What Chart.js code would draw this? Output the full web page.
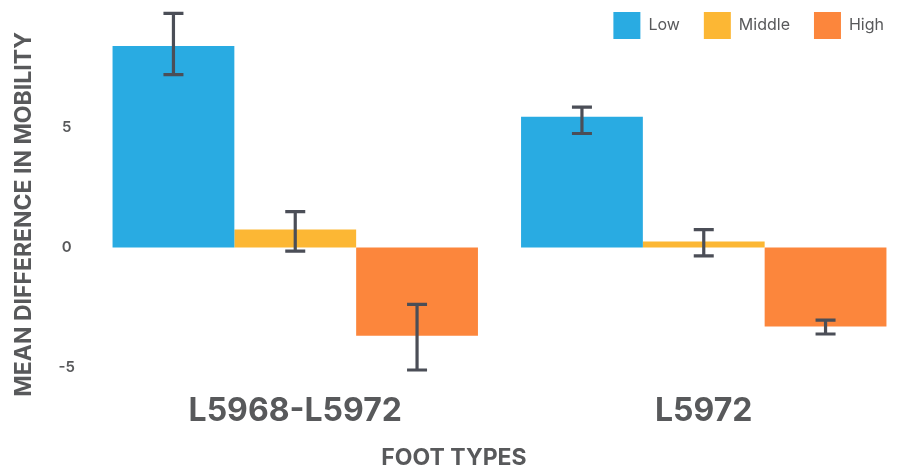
<!DOCTYPE html>
<html>
<head>
<meta charset="utf-8">
<title>Mean difference in mobility by foot type</title>
<script src="https://cdn.jsdelivr.net/npm/chart.js@4/dist/chart.umd.min.js"></script>
<style>
  html, body { margin: 0; padding: 0; background: #fff; overflow: hidden; }
  #wrap { position: relative; width: 908px; height: 470px; }
</style>
</head>
<body>
<div id="wrap"><canvas id="mobilityChart"></canvas></div>
<script>
const footTypes = ['L5968-L5972', 'L5972'];
const archGroups = ['Low', 'Middle', 'High'];

// mean difference per foot type
const lowMean = [8.4, 5.45];
const middleMean = [0.75, 0.25];
const highMean = [-3.67, -3.29];

// error bar ends
const lowUpper = [9.75, 5.85];
const lowLower = [7.2, 4.75];
const middleUpper = [1.5, 0.75];
const middleLower = [-0.15, -0.35];
const highUpper = [-2.37, -3.02];
const highLower = [-5.1, -3.6];

const yTicks = [-5, 0, 5];

const colors = ['#29abe2', '#fcb734', '#fc863c'];
const textGray = '#58595b';

Chart.defaults.font.family = 'Inter, "Open Sans", sans-serif';
Chart.defaults.color = textGray;

// whiskers drawn on top of each bar from its upper/lower values
const errorBars = {
  id: 'errorBars',
  afterDatasetsDraw(chart) {
    const ctx = chart.ctx;
    const yScale = chart.scales.y;
    ctx.save();
    ctx.strokeStyle = '#4b4e57';
    ctx.lineWidth = 3.2;
    chart.data.datasets.forEach((ds, i) => {
      chart.getDatasetMeta(i).data.forEach((bar, j) => {
        const top = yScale.getPixelForValue(ds.errorUpper[j]);
        const bottom = yScale.getPixelForValue(ds.errorLower[j]);
        ctx.beginPath();
        ctx.moveTo(bar.x, top);
        ctx.lineTo(bar.x, bottom);
        ctx.moveTo(bar.x - 10, top);
        ctx.lineTo(bar.x + 10, top);
        ctx.moveTo(bar.x - 10, bottom);
        ctx.lineTo(bar.x + 10, bottom);
        ctx.stroke();
      });
    });
    ctx.restore();
  }
};

new Chart(document.getElementById('mobilityChart'), {
  type: 'bar',
  data: {
    labels: footTypes,
    datasets: [
      { label: archGroups[0], data: lowMean, errorUpper: lowUpper, errorLower: lowLower, backgroundColor: colors[0] },
      { label: archGroups[1], data: middleMean, errorUpper: middleUpper, errorLower: middleLower, backgroundColor: colors[1] },
      { label: archGroups[2], data: highMean, errorUpper: highUpper, errorLower: highLower, backgroundColor: colors[2] }
    ]
  },
  options: {
    responsive: true,
    maintainAspectRatio: false,
    animation: false,
    layout: { padding: { top: -12, left: 0, right: 0, bottom: 0 } },
    datasets: {
      bar: { categoryPercentage: 0.8945, barPercentage: 1, borderWidth: 0, clip: false }
    },
    scales: {
      x: {
        grid: { display: false },
        border: { display: false },
        ticks: {
          padding: 8,
          color: textGray,
          font: { size: 32, weight: 'bold', lineHeight: 1 }
        },
        afterFit(scale) { scale.height = 66.4; }
      },
      y: {
        min: -5.5,
        max: 8.27,
        grid: { display: false, drawTicks: false },
        border: { display: false },
        afterBuildTicks(scale) { scale.ticks = yTicks.map(v => ({ value: v })); },
        ticks: {
          padding: 16,
          crossAlign: 'center',
          color: textGray,
          font: { size: 15, weight: '600' }
        },
        title: {
          display: true,
          text: 'MEAN DIFFERENCE IN MOBILITY',
          color: textGray,
          padding: { top: 12.5, bottom: 0 },
          font: { size: 23, weight: 'bold', lineHeight: 1 }
        },
        afterFit(scale) { scale.width = 91; }
      }
    },
    plugins: {
      legend: {
        position: 'top',
        align: 'end',
        labels: {
          boxWidth: 27,
          boxHeight: 27,
          padding: 24,
          color: textGray,
          font: { size: 16 }
        }
      },
      title: {
        display: true,
        position: 'bottom',
        text: 'FOOT TYPES',
        color: textGray,
        padding: { top: 1, bottom: 0 },
        font: { size: 23, weight: 'bold', lineHeight: 1 }
      },
      tooltip: { enabled: false }
    }
  },
  plugins: [errorBars]
});
</script>
</body>
</html>
